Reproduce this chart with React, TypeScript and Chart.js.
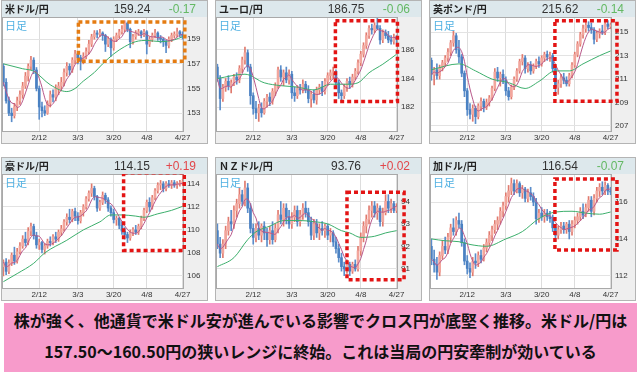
import React, { useEffect, useRef } from 'react';
import { Chart, registerables } from 'chart.js';
Chart.register(...registerables);

type Candle = [number, number, number, number]; // open, high, low, close

// x-axis tick labels (category index -> date label)
const tickIdx = [13, 27, 40, 52, 65];
const tickText = ['2/12', '3/3', '3/20', '4/8', '4/27'];

// ---------- USD/JPY ----------
const usdjpy: Candle[] = [
  [156.8,157.0,155.2,155.5],[155.5,155.8,153.8,154.0],[154.0,154.3,152.8,153.0],[153.0,153.4,152.3,152.8],
  [152.8,153.8,152.6,153.5],[153.5,154.3,153.2,154.0],[154.0,154.8,153.7,154.5],[154.5,155.5,154.2,155.2],
  [155.2,156.3,155.0,156.0],[156.0,157.0,155.6,156.8],[156.8,157.6,156.5,157.3],[157.3,157.5,156.2,156.5],
  [156.5,156.7,154.8,155.0],[155.0,155.2,152.5,153.5],[153.5,153.9,152.7,153.2],[153.2,153.6,152.8,153.0],
  [153.0,154.0,152.9,153.8],[153.8,154.8,153.5,154.5],[154.5,154.9,153.9,154.3],[154.3,155.3,154.0,155.0],
  [155.0,155.5,154.5,155.2],[155.2,155.9,154.8,155.5],[155.5,156.6,155.2,156.3],[156.3,157.1,156.0,156.8],
  [156.8,157.0,156.1,156.5],[156.5,157.5,156.3,157.3],[157.3,158.1,157.0,157.8],[157.8,158.0,157.0,157.5],
  [157.5,157.7,156.5,157.2],[157.2,157.9,157.0,157.6],[157.6,158.3,157.4,158.0],[158.0,158.9,157.8,158.6],
  [158.6,159.4,158.4,159.2],[159.2,159.7,159.0,159.5],[159.5,159.7,159.1,159.4],[159.4,159.8,159.2,159.5],
  [159.5,159.6,158.9,159.3],[159.3,159.4,158.0,158.6],[158.6,159.2,158.4,159.0],[159.0,159.1,157.6,158.3],
  [158.3,159.2,158.1,159.0],[159.0,159.5,158.8,159.3],[159.3,159.8,159.1,159.6],[159.6,160.1,159.4,159.8],
  [159.8,160.5,159.6,160.3],[160.3,160.4,159.6,159.8],[159.8,159.9,158.3,158.8],[158.8,159.4,158.6,159.2],
  [159.2,159.7,159.0,159.5],[159.5,159.8,159.3,159.6],[159.6,159.7,159.1,159.4],[159.4,159.8,159.2,159.6],
  [159.6,159.7,157.8,158.6],[158.6,159.2,158.4,159.0],[159.0,159.5,158.8,159.3],[159.3,159.8,159.1,159.5],
  [159.5,159.6,158.9,159.1],[159.1,159.3,158.7,159.0],[159.0,159.1,158.4,158.8],[158.8,158.9,157.9,158.5],
  [158.5,159.2,158.3,159.0],[159.0,159.5,158.8,159.3],[159.3,159.6,159.1,159.4],[159.4,159.9,159.2,159.6],
  [159.6,159.7,159.2,159.4],[159.4,159.6,159.0,159.24],
];
const usdMa: [number, number][] = [[0,157.0],[7,156.6],[11,156.4],[17,155.3],[23,154.75],[26,155.0],[29,155.6],[33,156.3],[36,157.0],[40,157.8],[44,158.4],[48,158.8],[52,158.9],[57,158.8],[62,158.95],[65,159.2]];

// ---------- EUR/JPY ----------
const eurjpy: Candle[] = [
  [184.8,185.0,183.8,184.0],[184.0,184.2,181.8,182.6],[182.6,183.6,182.4,183.4],[183.4,184.0,183.1,183.8],
  [183.8,184.2,183.2,183.5],[183.5,183.9,183.0,183.7],[183.7,184.3,183.5,184.1],[184.1,184.4,183.6,183.9],
  [183.9,184.9,183.7,184.7],[184.7,185.5,184.4,185.3],[185.3,186.2,185.0,185.8],[185.8,186.0,184.5,184.8],
  [184.8,185.0,182.2,182.8],[182.8,183.0,181.5,181.9],[181.9,182.4,181.2,181.6],[181.6,182.2,181.0,181.9],
  [181.9,182.3,181.3,181.6],[181.6,182.6,181.5,182.4],[182.4,182.9,182.0,182.7],[182.7,183.0,182.1,182.4],
  [182.4,183.3,182.2,183.1],[183.1,183.7,182.8,183.5],[183.5,184.8,183.3,184.6],[184.6,184.9,183.8,184.1],
  [184.1,184.6,183.5,184.4],[184.4,184.8,183.7,183.9],[183.9,184.6,183.6,184.3],[184.3,184.5,182.6,183.0],
  [183.0,183.4,182.4,182.8],[182.8,183.5,182.6,183.3],[183.3,183.6,182.9,183.2],[183.2,183.9,183.0,183.6],
  [183.6,183.8,183.0,183.2],[183.2,183.5,182.3,182.6],[182.6,183.1,182.0,182.9],[182.9,183.2,182.3,182.5],
  [182.5,183.4,182.2,183.2],[183.2,183.6,182.9,183.4],[183.4,183.8,182.8,183.1],[183.1,184.0,182.9,183.8],
  [183.8,184.4,183.5,184.2],[184.2,184.6,183.9,184.4],[184.4,184.8,184.0,184.5],[184.5,184.6,183.4,183.7],
  [183.7,183.9,182.6,183.0],[183.0,183.2,182.4,182.8],[182.8,183.6,182.6,183.4],[183.4,184.0,183.1,183.8],
  [183.8,184.1,183.3,183.6],[183.6,184.3,183.4,184.1],[184.1,184.7,183.9,184.5],[184.5,185.3,184.3,185.1],
  [185.1,185.9,184.9,185.7],[185.7,186.5,185.5,186.3],[186.3,187.2,186.1,187.0],[187.0,187.7,186.8,187.5],
  [187.5,187.8,187.1,187.4],[187.4,187.9,187.2,187.7],[187.7,188.3,187.4,187.5],[187.5,187.7,186.4,186.7],
  [186.7,187.4,186.5,187.2],[187.2,187.4,186.8,187.0],[187.0,187.3,186.5,186.7],[186.7,187.0,186.4,186.6],
  [186.6,187.1,186.4,186.9],[186.9,187.0,186.5,186.75],
];
const eurMa: [number, number][] = [[0,184.0],[10,184.3],[17,183.7],[23,183.5],[29,183.4],[35,183.2],[41,183.6],[47,183.6],[51,183.7],[55,184.4],[60,185.0],[65,185.7]];

// ---------- GBP/JPY ----------
const gbpjpy: Candle[] = [
  [212.6,212.8,210.9,211.4],[211.4,212.0,210.5,211.8],[211.8,212.3,211.0,211.3],[211.3,212.2,211.0,212.0],
  [212.0,212.6,211.7,212.4],[212.4,213.0,212.1,212.8],[212.8,213.6,212.5,213.3],[213.3,214.3,213.0,214.1],
  [214.1,215.1,213.8,214.7],[214.7,214.9,213.2,213.5],[213.5,214.3,212.4,212.9],[212.9,213.1,211.2,211.5],
  [211.5,211.7,209.5,210.0],[210.0,210.2,207.9,208.4],[208.4,208.9,207.6,208.0],[208.0,208.8,207.4,208.5],
  [208.5,208.7,207.2,207.8],[207.8,208.9,207.6,208.7],[208.7,209.4,208.3,209.1],[209.1,209.3,208.2,208.6],
  [208.6,209.3,208.4,209.0],[209.0,209.6,208.7,209.4],[209.4,210.4,209.2,210.2],[210.2,211.9,210.0,211.6],
  [211.6,212.0,210.8,211.1],[211.1,211.6,210.4,211.4],[211.4,211.8,210.6,210.9],[210.9,211.2,209.6,210.0],
  [210.0,210.3,209.2,209.5],[209.5,210.5,209.3,210.3],[210.3,211.2,210.1,211.0],[211.0,211.9,210.8,211.7],
  [211.7,212.7,211.5,212.5],[212.5,213.1,212.2,212.8],[212.8,213.0,211.5,211.9],[211.9,212.4,211.6,212.2],
  [212.2,212.5,211.4,211.7],[211.7,212.3,211.5,212.1],[212.1,212.7,211.9,212.5],[212.5,212.9,212.0,212.3],
  [212.3,213.0,212.1,212.8],[212.8,213.3,212.5,213.1],[213.1,213.4,212.6,212.9],[212.9,213.3,212.5,213.0],
  [213.0,213.2,211.6,211.9],[211.9,212.1,209.8,210.3],[210.3,210.9,209.7,210.6],[210.6,211.4,210.3,211.1],
  [211.1,211.5,210.6,210.9],[210.9,211.2,210.4,210.6],[210.6,211.5,210.4,211.3],[211.3,212.4,211.1,212.2],
  [212.2,213.3,212.0,213.1],[213.1,214.2,212.9,214.0],[214.0,215.0,213.8,214.8],[214.8,215.6,214.5,215.3],
  [215.3,215.9,215.0,215.6],[215.6,215.9,215.1,215.4],[215.4,215.8,214.9,215.2],[215.2,215.4,214.0,214.4],
  [214.4,215.1,214.2,214.9],[214.9,215.3,214.5,215.1],[215.1,215.6,214.8,215.0],[215.0,215.9,214.8,215.7],
  [215.7,216.0,215.3,215.5],[215.5,215.8,215.3,215.62],
];
const gbpMa: [number, number][] = [[0,211.8],[10,212.3],[16,211.7],[22,211.0],[28,210.7],[34,210.2],[39,210.8],[45,211.7],[50,211.7],[55,212.3],[61,213.0],[65,213.4]];

// ---------- AUD/JPY ----------
const audjpy: Candle[] = [
  [106.8,107.4,106.0,107.2],[107.2,107.5,106.1,106.4],[106.4,107.4,106.2,107.1],[107.1,108.0,106.9,107.8],
  [107.8,108.5,107.0,107.3],[107.3,108.4,107.1,108.1],[108.1,108.9,107.9,108.6],[108.6,109.5,108.4,109.2],
  [109.2,109.8,108.6,108.9],[108.9,110.2,108.7,109.9],[109.9,110.6,109.5,110.3],[110.3,110.5,109.2,109.5],
  [109.5,109.8,108.4,108.7],[108.7,109.2,108.3,108.9],[108.9,109.0,108.0,108.3],[108.3,108.8,107.9,108.6],
  [108.6,109.2,108.4,109.0],[109.0,109.4,108.6,108.9],[108.9,109.6,108.7,109.4],[109.4,109.8,108.9,109.2],
  [109.2,110.0,109.0,109.8],[109.8,110.4,109.5,110.1],[110.1,110.9,109.9,110.7],[110.7,111.4,110.4,111.1],
  [111.1,111.8,110.6,110.9],[110.9,111.8,110.7,111.6],[111.6,111.9,110.8,111.2],[111.2,111.5,110.5,110.8],
  [110.8,111.7,110.6,111.5],[111.5,112.2,111.2,112.0],[112.0,112.9,111.8,112.7],[112.7,113.4,112.5,113.2],
  [113.2,114.0,112.9,113.6],[113.6,113.8,112.6,112.9],[112.9,113.0,111.6,111.9],[111.9,112.6,111.7,112.4],
  [112.4,113.3,112.2,113.0],[113.0,113.2,112.3,112.6],[112.6,112.8,111.6,111.9],[111.9,112.1,111.2,111.5],
  [111.5,111.8,110.6,110.9],[110.9,111.2,110.4,111.0],[111.0,111.1,110.1,110.4],[110.4,110.7,109.6,109.9],
  [109.9,110.2,109.2,109.6],[109.6,109.8,108.9,109.3],[109.3,110.0,109.1,109.8],[109.8,110.2,109.5,110.0],
  [110.0,110.4,109.6,109.8],[109.8,110.5,109.6,110.3],[110.3,111.2,110.1,111.0],[111.0,111.9,110.8,111.7],
  [111.7,112.6,111.5,112.4],[112.4,112.8,111.6,112.0],[112.0,113.0,111.8,112.8],[112.8,113.6,112.6,113.4],
  [113.4,114.1,113.2,113.9],[113.9,114.3,113.5,114.0],[114.0,114.2,113.3,113.6],[113.6,114.2,113.4,114.0],
  [114.0,114.3,113.7,113.9],[113.9,114.3,113.6,114.1],[114.1,114.3,113.7,113.9],[113.9,114.2,113.6,114.0],
  [114.0,114.3,113.8,114.1],[114.1,114.4,113.9,114.15],
];
const audMa: [number, number][] = [[0,105.5],[5,106.2],[11,107.1],[15,108.0],[23,109.1],[29,110.0],[35,110.7],[39,111.3],[43,111.3],[48,111.2],[51,111.1],[56,111.4],[61,111.7],[65,112.05]];

// ---------- NZD/JPY ----------
const nzdjpy: Candle[] = [
  [92.7,93.0,91.9,92.1],[92.1,92.4,91.5,91.7],[91.7,92.3,91.5,92.1],[92.1,92.9,91.9,92.7],
  [92.7,93.3,92.5,93.1],[93.1,93.6,92.7,93.0],[93.0,93.8,92.8,93.6],[93.6,94.1,93.3,93.9],
  [93.9,94.6,93.7,94.3],[94.3,94.5,93.8,94.0],[94.0,94.9,93.8,94.6],[94.6,94.8,93.5,93.7],
  [93.7,93.9,92.6,92.8],[92.8,93.0,92.1,92.4],[92.4,93.0,92.2,92.8],[92.8,93.1,92.3,92.5],
  [92.5,93.0,92.2,92.9],[92.9,93.1,92.3,92.6],[92.6,92.8,92.0,92.3],[92.3,92.9,92.1,92.7],
  [92.7,93.1,92.1,92.3],[92.3,93.0,92.2,92.8],[92.8,93.6,92.6,93.4],[93.4,94.0,93.0,93.2],
  [93.2,93.9,92.9,93.7],[93.7,93.9,93.0,93.3],[93.3,93.6,92.8,93.0],[93.0,93.5,92.8,93.3],
  [93.3,93.8,93.1,93.6],[93.6,93.8,92.9,93.1],[93.1,93.6,92.9,93.4],[93.4,93.9,93.2,93.7],
  [93.7,94.0,93.3,93.5],[93.5,93.7,92.9,93.1],[93.1,93.3,92.3,92.5],[92.5,93.2,92.3,93.0],
  [93.0,93.2,92.4,92.6],[92.6,93.0,92.3,92.8],[92.8,93.1,92.5,92.7],[92.7,93.0,92.4,92.9],
  [92.9,93.0,92.3,92.5],[92.5,92.8,92.2,92.6],[92.6,92.7,92.0,92.2],[92.2,92.4,91.7,91.9],
  [91.9,92.1,91.3,91.5],[91.5,91.7,90.9,91.1],[91.1,91.3,90.7,91.0],[91.0,91.4,90.8,91.2],
  [91.2,91.3,90.7,90.9],[90.9,91.3,90.8,91.2],[91.2,91.4,90.9,91.0],[91.0,92.0,90.9,91.8],
  [91.8,92.6,91.6,92.4],[92.4,93.1,92.2,92.9],[92.9,93.4,92.6,93.2],[93.2,93.8,93.0,93.6],
  [93.6,94.0,93.3,93.8],[93.8,94.0,93.3,93.5],[93.5,93.9,93.2,93.7],[93.7,93.8,92.9,93.1],
  [93.1,93.7,92.9,93.5],[93.5,94.3,93.4,94.0],[94.0,94.3,93.5,93.7],[93.7,94.1,93.5,93.9],
  [93.9,94.0,93.5,93.6],[93.6,93.9,93.5,93.76],
];
const nzdMa: [number, number][] = [[0,91.1],[6,91.5],[11,92.3],[14,92.65],[19,92.9],[24,93.15],[30,93.15],[35,93.1],[40,93.0],[45,92.7],[48,92.6],[52,92.4],[57,92.45],[61,92.6],[65,92.7]];

// ---------- CAD/JPY ----------
const cadjpy: Candle[] = [
  [113.6,114.0,112.6,112.9],[112.9,113.4,112.2,112.6],[112.6,113.0,111.8,112.2],[112.2,113.3,112.0,113.1],
  [113.1,113.9,112.9,113.6],[113.6,114.1,113.2,113.4],[113.4,114.3,113.2,114.1],[114.1,114.8,113.8,114.6],
  [114.6,115.1,114.2,114.4],[114.4,115.2,114.2,115.0],[115.0,115.4,114.6,114.8],[114.8,115.0,113.6,113.8],
  [113.8,114.0,112.6,112.8],[112.8,113.1,112.1,112.4],[112.4,112.7,111.9,112.2],[112.2,113.0,112.0,112.8],
  [112.8,113.2,112.4,112.7],[112.7,113.3,112.5,113.1],[113.1,113.4,112.7,112.9],[112.9,113.7,112.8,113.5],
  [113.5,114.0,113.3,113.8],[113.8,114.4,113.6,114.2],[114.2,114.7,113.9,114.5],[114.5,115.0,114.3,114.8],
  [114.8,115.2,114.5,115.0],[115.0,115.7,114.8,115.5],[115.5,116.0,115.2,115.8],[115.8,116.5,115.6,116.3],
  [116.3,116.9,116.0,116.6],[116.6,117.3,116.4,117.0],[117.0,117.2,116.4,116.6],[116.6,117.2,116.5,117.0],
  [117.0,117.1,116.3,116.5],[116.5,116.9,116.2,116.7],[116.7,116.8,116.0,116.2],[116.2,116.7,116.0,116.5],
  [116.5,116.8,116.1,116.3],[116.3,116.5,115.8,116.0],[116.0,116.2,114.8,115.1],[115.1,115.6,114.9,115.4],
  [115.4,115.7,115.0,115.2],[115.2,115.6,114.9,115.4],[115.4,115.6,115.0,115.2],[115.2,115.5,114.9,115.1],
  [115.1,115.3,114.4,114.6],[114.6,114.8,113.9,114.2],[114.2,114.7,114.0,114.5],[114.5,114.9,114.3,114.7],
  [114.7,114.9,114.3,114.5],[114.5,114.9,114.3,114.8],[114.8,115.0,114.0,114.4],[114.4,115.0,114.2,114.8],
  [114.8,115.2,114.6,115.0],[115.0,115.4,114.8,115.2],[115.2,115.7,115.0,115.5],[115.5,115.9,115.1,115.3],
  [115.3,115.9,115.2,115.7],[115.7,116.3,115.5,116.1],[116.1,116.3,115.2,115.5],[115.5,116.4,115.3,116.2],
  [116.2,116.8,116.0,116.6],[116.6,117.0,116.3,116.8],[116.8,117.1,116.4,116.6],[116.6,117.1,116.4,116.9],
  [116.9,117.0,116.4,116.6],[116.6,116.8,116.4,116.54],
];
const cadMa: [number, number][] = [[0,114.0],[5,113.9],[10,113.85],[14,113.7],[20,113.6],[27,114.0],[33,114.4],[39,115.1],[45,115.46],[51,115.5],[56,115.4],[61,115.34],[65,115.46]];

// header texts
const titles = ['米ドル/円', 'ユーロ/円', '英ポンド/円', '豪ドル/円', 'ＮＺドル/円', '加ドル/円'];
const prices = ['159.24', '186.75', '215.62', '114.15', '93.76', '116.54'];
const changes = ['-0.17', '-0.06', '-0.14', '+0.19', '+0.02', '-0.07'];

// y-axis tick values and ranges
const yTicksList = [[153,155,157,159],[182,184,186],[207,209,211,213,215],[106,108,110,112,114],[91,92,93,94],[112,114,116]];
const yRanges: [number, number][] = [[151.55,160.8],[180.33,188.3],[206.57,216.3],[104.95,114.86],[90.15,95.22],[111.34,117.52]];

// highlighted zones: [index from, index to, price low, price high]
const zones: [number, number, number, number][] = [
  [27.2, 65.8, 157.2, 160.4],
  [42.8, 65.3, 182.4, 188.04],
  [44.8, 67.3, 209.1, 215.98],
  [43.6, 65.6, 108.22, 114.97],
  [47.0, 67.7, 90.52, 94.41],
  [44.8, 67.3, 113.4, 117.25],
];

const allCandles = [usdjpy, eurjpy, gbpjpy, audjpy, nzdjpy, cadjpy];
const allMa = [usdMa, eurMa, gbpMa, audMa, nzdMa, cadMa];

const noteLine1 = '株が強く、他通貨で米ドル安が進んでいる影響でクロス円が底堅く推移。米ドル/円は';
const noteLine2 = '157.50～160.50円の狭いレンジに終始。これは当局の円安牽制が効いている';

const PANEL_W = 207;
const PANEL_H = 144;
const HEADER_H = 16;
const CANVAS_W = PANEL_W - 2;
const CANVAS_H = PANEL_H - 2 - HEADER_H;
const panelLefts = [1, 215, 429];
const panelTops = [0, 157];

const JP = '"Noto Sans CJK JP", "Noto Sans", sans-serif';

function Panel({ k }: { k: number }) {
  const ref = useRef<HTMLCanvasElement>(null);
  useEffect(() => {
    const candles = allCandles[k];
    const labels = candles.map((_, i) => i);
    const up = candles.map((c) => c[3] >= c[0]);
    const closes = candles.map((c) => c[3]);
    const ma5 = closes.map((_, i) => {
      const s = closes.slice(Math.max(0, i - 4), i + 1);
      return s.reduce((a, b) => a + b, 0) / s.length;
    });
    const zone = zones[k];
    const zoneColor = k === 0 ? '#e57c12' : '#e31414';

    const bgPlugin = {
      id: 'bg',
      beforeDraw(chart: any) {
        const { ctx, chartArea: a } = chart;
        ctx.save();
        ctx.fillStyle = '#efefef';
        ctx.fillRect(0, 0, chart.width, chart.height);
        ctx.fillStyle = '#ffffff';
        ctx.fillRect(a.left, a.top, a.right - a.left, a.bottom - a.top);
        ctx.restore();
      },
      afterDraw(chart: any) {
        const { ctx, chartArea: a, scales } = chart;
        ctx.save();
        ctx.strokeStyle = '#a9a9a9';
        ctx.lineWidth = 1;
        ctx.strokeRect(a.left + 0.5, a.top + 0.5, a.right - a.left - 1, a.bottom - a.top);
        // highlighted zone
        const x0 = scales.x.getPixelForValue(zone[0]);
        const x1 = scales.x.getPixelForValue(zone[1]);
        const y0 = scales.y.getPixelForValue(zone[3]);
        const y1 = scales.y.getPixelForValue(zone[2]);
        ctx.strokeStyle = zoneColor;
        ctx.lineWidth = 3.5;
        ctx.setLineDash([4, 3]);
        ctx.lineCap = 'butt';
        ctx.beginPath();
        ctx.moveTo(x0, y0);
        ctx.lineTo(x1, y0);
        ctx.lineTo(x1, y1);
        ctx.lineTo(x0, y1);
        ctx.closePath();
        ctx.stroke();
        ctx.restore();
      },
    };

    const chart = new Chart(ref.current!, {
      type: 'bar',
      data: {
        labels,
        datasets: [
          {
            type: 'line',
            data: ma5,
            borderColor: '#b8588a',
            borderWidth: 1,
            pointRadius: 0,
            tension: 0.3,
            order: 0,
          } as any,
          {
            type: 'line',
            data: allMa[k].map(([x, y]) => ({ x, y })),
            borderColor: '#3caf6c',
            borderWidth: 1,
            pointRadius: 0,
            cubicInterpolationMode: 'monotone',
            order: 0,
          } as any,
          {
            type: 'bar',
            data: candles.map((c) => [Math.min(c[0], c[3]), Math.max(c[0], c[3])]),
            backgroundColor: up.map((u) => (u ? '#f2a69d' : '#4a81c2')),
            barThickness: 2,
            minBarLength: 1,
            grouped: false,
            order: 1,
          } as any,
          {
            type: 'bar',
            data: candles.map((c) => [c[2], c[1]]),
            backgroundColor: up.map((u) => (u ? '#e07a6e' : '#5b8dca')),
            barThickness: 1,
            grouped: false,
            order: 2,
          } as any,
        ],
      },
      options: {
        animation: false,
        responsive: false,
        maintainAspectRatio: false,
        events: [],
        layout: { padding: 0 },
        plugins: { legend: { display: false }, tooltip: { enabled: false } },
        scales: {
          x: {
            type: 'category',
            offset: true,
            grid: {
              offset: false,
              drawTicks: false,
              color: (ctx: any) => (ctx.tick && tickIdx.includes(ctx.tick.value) ? '#dddddd' : 'rgba(0,0,0,0)'),
            },
            border: { display: false },
            ticks: {
              autoSkip: false,
              maxRotation: 0,
              padding: 2,
              color: '#333333',
              font: { size: 8, family: '"Liberation Sans", sans-serif' },
              callback: (_v: any, i: number) => {
                const j = tickIdx.indexOf(i);
                return j >= 0 ? tickText[j] : '';
              },
            },
            afterFit: (s: any) => {
              s.height = 12;
              s.paddingLeft = 0;
              s.paddingRight = 0;
            },
          },
          y: {
            position: 'right',
            min: yRanges[k][0],
            max: yRanges[k][1],
            afterBuildTicks: (s: any) => {
              s.ticks = yTicksList[k].map((v) => ({ value: v }));
            },
            grid: { drawTicks: false, color: '#e3e3e3' },
            border: { display: false },
            ticks: {
              padding: 3,
              color: '#333333',
              font: { size: 8, family: '"Liberation Sans", sans-serif' },
            },
            afterFit: (s: any) => {
              s.width = 23;
              s.paddingTop = 0;
              s.paddingBottom = 0;
            },
          },
        },
      } as any,
      plugins: [bgPlugin],
    });
    return () => chart.destroy();
  }, [k]);

  const col = k % 3;
  const row = Math.floor(k / 3);
  const chgColor = changes[k].startsWith('+') ? '#e2474b' : '#64b964';
  return (
    <div
      style={{
        position: 'absolute',
        left: panelLefts[col],
        top: panelTops[row],
        width: PANEL_W,
        height: PANEL_H,
        boxSizing: 'border-box',
        border: '1px solid #b4b4b4',
        background: '#efefef',
      }}
    >
      <div style={{ position: 'relative', height: HEADER_H, background: '#dde8ec' }}>
        <span
          style={{
            position: 'absolute',
            left: 3,
            top: 0,
            lineHeight: HEADER_H + 'px',
            fontSize: 10,
            fontWeight: 'bold',
            fontFamily: JP,
            color: '#222',
            whiteSpace: 'nowrap',
          }}
        >
          {titles[k]}
        </span>
        <span
          style={{
            position: 'absolute',
            left: 90,
            width: 80,
            textAlign: 'center',
            top: 0,
            lineHeight: HEADER_H + 'px',
            fontSize: 12,
            fontFamily: '"Liberation Sans", Arial, sans-serif',
            color: '#333',
          }}
        >
          {prices[k]}
        </span>
        <span
          style={{
            position: 'absolute',
            right: 11,
            top: 0,
            lineHeight: HEADER_H + 'px',
            fontSize: 12,
            fontFamily: '"Liberation Sans", Arial, sans-serif',
            color: chgColor,
          }}
        >
          {changes[k]}
        </span>
      </div>
      <canvas ref={ref} width={CANVAS_W} height={CANVAS_H} style={{ display: 'block', width: CANVAS_W, height: CANVAS_H }} />
      <span
        style={{
          position: 'absolute',
          left: 3,
          top: HEADER_H + 2,
          fontSize: 11,
          lineHeight: '12px',
          fontFamily: JP,
          color: '#4fb0e2',
        }}
      >
        日足
      </span>
    </div>
  );
}

export default function App() {
  return (
    <div style={{ position: 'fixed', left: 0, top: 0, width: 640, height: 372, background: '#fff', overflow: 'hidden' }}>
      {[0, 1, 2, 3, 4, 5].map((k) => (
        <Panel key={k} k={k} />
      ))}
      <div
        style={{
          position: 'absolute',
          left: 4,
          top: 303,
          width: 633,
          height: 69,
          background: '#f79bcb',
          fontFamily: JP,
          fontWeight: 'bold',
          fontSize: 16,
          color: '#111',
          textAlign: 'center',
        }}
      >
        <div style={{ lineHeight: '31px', paddingTop: 2 }}>{noteLine1}</div>
        <div style={{ lineHeight: '31px' }}>{noteLine2}</div>
      </div>
    </div>
  );
}
